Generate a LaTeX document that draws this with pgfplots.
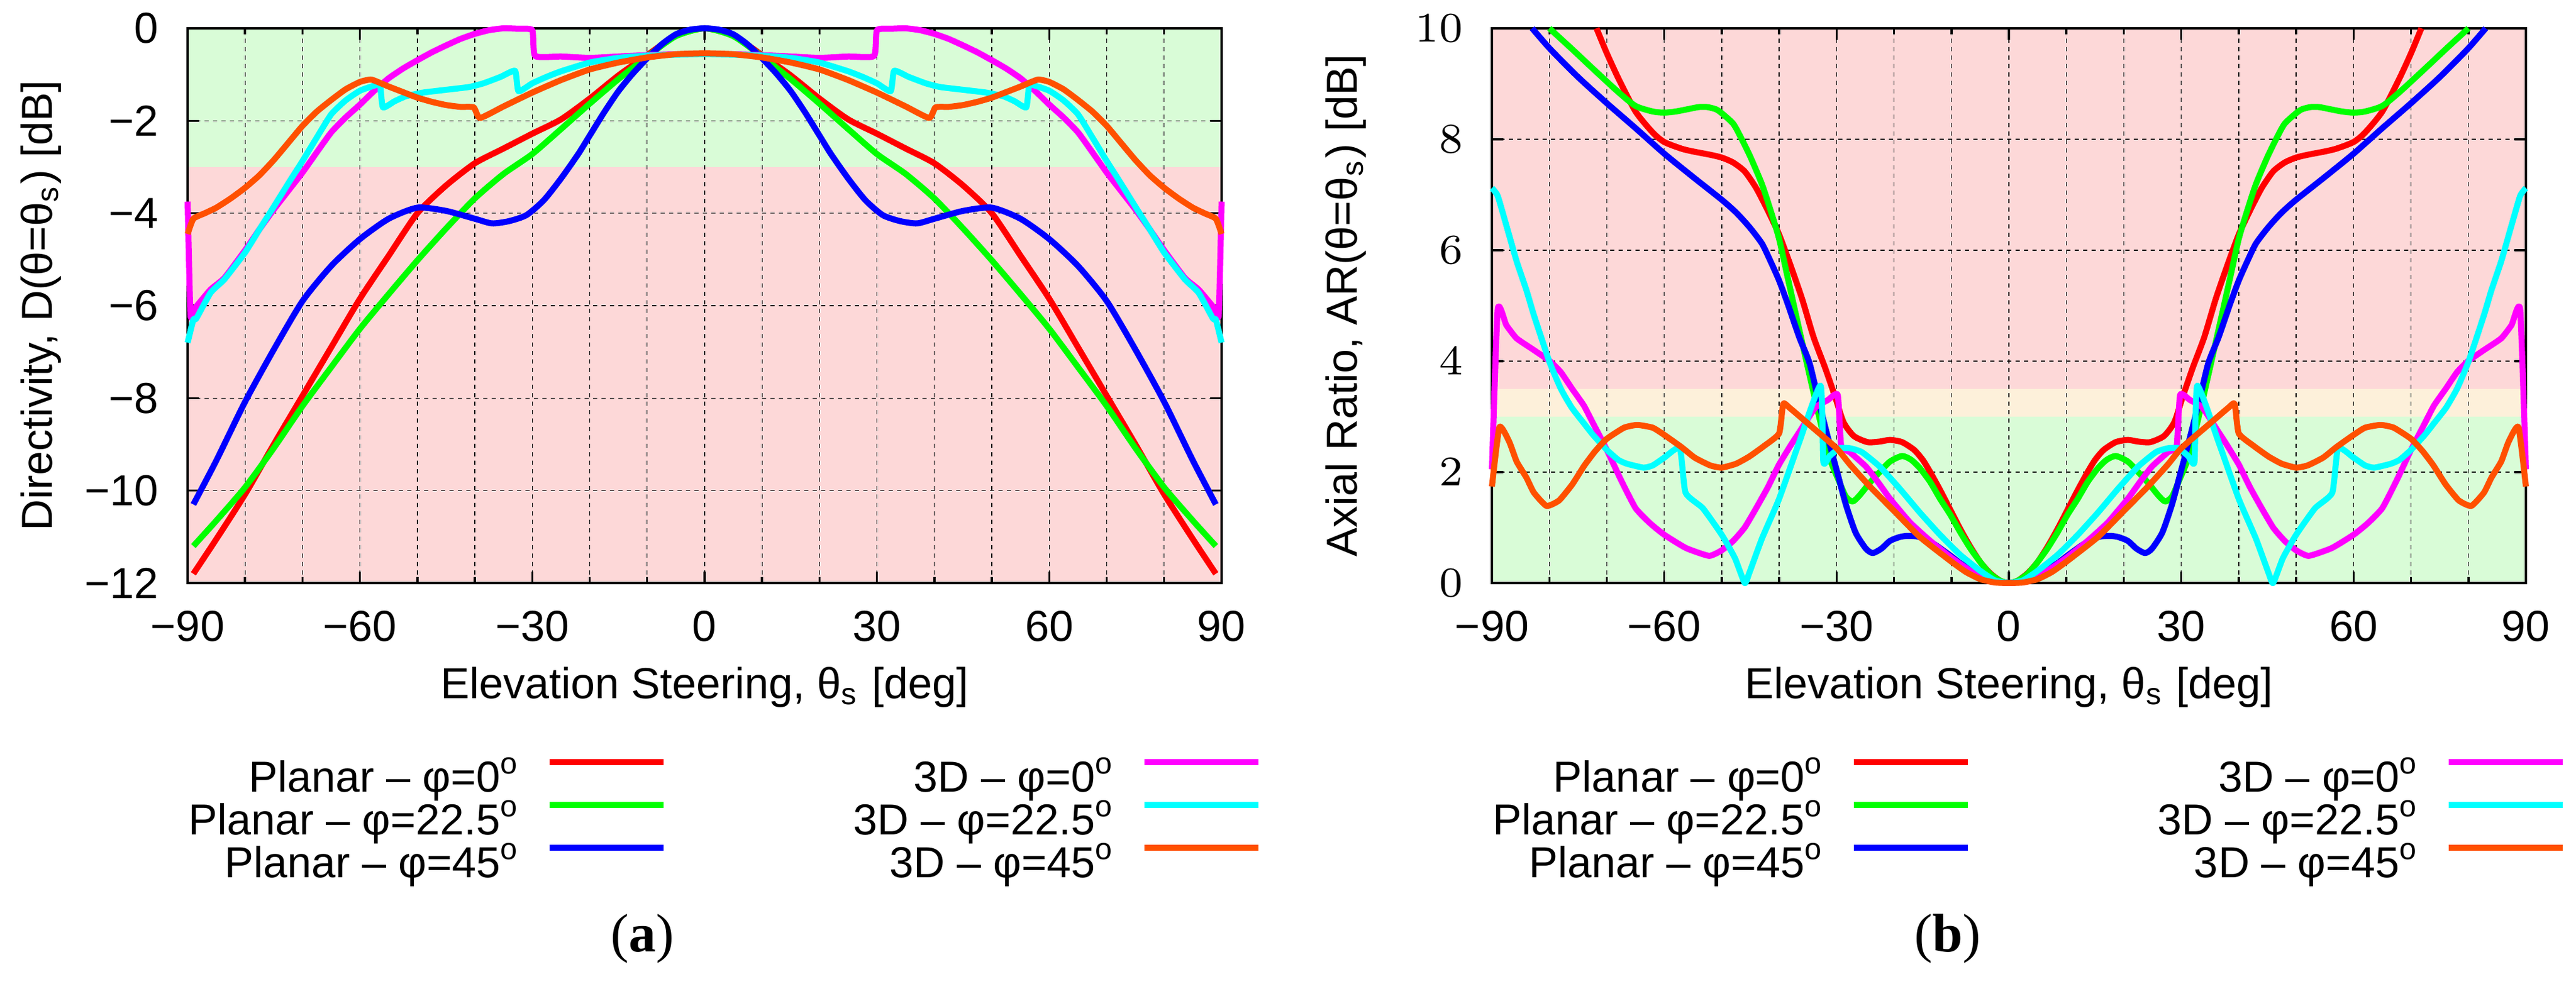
\documentclass[border=0pt]{standalone}
\usepackage{fontspec}
\setmainfont{Liberation Sans}
\newfontfamily\capfont{Liberation Serif}
\usepackage{pgfplots}
\pgfplotsset{compat=1.18}

\definecolor{cRed}{RGB}{255,0,0}
\definecolor{cGreen}{RGB}{0,255,0}
\definecolor{cBlue}{RGB}{0,0,255}
\definecolor{cMag}{RGB}{255,0,255}
\definecolor{cCyan}{RGB}{0,255,255}
\definecolor{cOrange}{RGB}{255,80,0}
\definecolor{bgGreen}{RGB}{217,252,215}
\definecolor{bgRed}{RGB}{253,216,216}
\definecolor{bgYellow}{RGB}{253,240,218}

\pgfplotsset{
  myaxis/.style={
    set layers,
    scale only axis, width=171.4pt, height=92pt, anchor=south west,
    clip=false,
    xmin=-90, xmax=90,
    xtick={-90,-60,-30,0,30,60,90},
    xticklabels={−90,−60,−30,0,30,60,90},
    minor x tick num=2,
    grid=both,
    major grid style={black, line width=0.13pt, dash pattern=on 0.7pt off 0.7pt},
    minor grid style={black, line width=0.13pt, dash pattern=on 0.7pt off 0.7pt},
    tick align=inside,
    major tick length=1.9pt, minor tick length=1pt,
    every tick/.style={black, line width=0.35pt},
    axis line style={black, line width=0.35pt},
    tick label style={font=\fontsize{7.2}{8.6}\selectfont},
    label style={font=\fontsize{7.2}{8.6}\selectfont},
    xticklabel style={inner sep=0pt, anchor=north, yshift=-4.4pt},
    yticklabel style={inner sep=0pt, anchor=east, xshift=-4.6pt},
    xlabel={Elevation Steering, θ\textsubscript{s} [deg]},
    xlabel style={at={(axis description cs:0.5,-0.2087)}, anchor=base},
    ylabel style={at={(axis description cs:-0.1307,0.5)}, anchor=base},
    every axis plot/.append style={line width=1pt, line join=round},
    legend columns=2,
    legend plot pos=right,
    legend cell align=right,
    legend image code/.code={\draw[##1] (0pt,2.9pt) -- (18.9pt,2.9pt);},
    legend style={at={(axis description cs:1.0385,-0.3163)}, anchor=north east,
      draw=none, fill=none, inner sep=0pt, outer sep=0pt, row sep=0pt,
      font=\fontsize{7.2}{8.6}\selectfont,
      nodes={inner sep=0pt, text height=5.6pt, text depth=1.5pt},
      /tikz/every odd column/.append style={column sep=4.3pt},
      /tikz/every even column/.append style={column sep=31pt}},
  }
}

\newcommand{\mylegend}{%
  \addlegendimage{cRed, line width=1pt}\addlegendentry{Planar \textendash{} φ=0\textsuperscript{o}}
  \addlegendimage{cMag, line width=1pt}\addlegendentry{3D \textendash{} φ=0\textsuperscript{o}}
  \addlegendimage{cGreen, line width=1pt}\addlegendentry{Planar \textendash{} φ=22.5\textsuperscript{o}}
  \addlegendimage{cCyan, line width=1pt}\addlegendentry{3D \textendash{} φ=22.5\textsuperscript{o}}
  \addlegendimage{cBlue, line width=1pt}\addlegendentry{Planar \textendash{} φ=45\textsuperscript{o}}
  \addlegendimage{cOrange, line width=1pt}\addlegendentry{3D \textendash{} φ=45\textsuperscript{o}}
}

\begin{document}
\begin{tikzpicture}

% ---------------- (a) Directivity ----------------
\begin{axis}[myaxis, at={(31.1pt,64.8pt)},
  ymin=-12, ymax=0,
  ytick={-12,-10,-8,-6,-4,-2,0},
  yticklabels={−12,−10,−8,−6,−4,−2,0},
  ylabel={Directivity, D(θ=θ\textsubscript{s}) [dB]}]

\addplot[draw=none, fill=bgGreen, on layer=axis background, forget plot]
  coordinates {(-90,-3) (90,-3) (90,0) (-90,0)} -- cycle;
\addplot[draw=none, fill=bgRed, on layer=axis background, forget plot]
  coordinates {(-90,-12) (90,-12) (90,-3) (-90,-3)} -- cycle;

% Planar phi=0
\addplot[cRed, smooth, tension=0.4, forget plot] coordinates {
(-89,-11.80) (-85,-11.05) (-80,-10.08) (-75,-9.00) (-70,-7.95) (-65,-6.90) (-60,-5.85) (-55,-4.92) (-50,-4.00) (-45,-3.40) (-40,-2.92) (-35,-2.60) (-30,-2.28) (-25,-1.97) (-20,-1.52) (-15,-1.02) (-10,-0.58) (-5,-0.16) (0,0) (5,-0.16) (10,-0.58) (15,-1.02) (20,-1.52) (25,-1.97) (30,-2.28) (35,-2.60) (40,-2.92) (45,-3.40) (50,-4.00) (55,-4.92) (60,-5.85) (65,-6.90) (70,-7.95) (75,-9.00) (80,-10.08) (85,-11.05) (89,-11.80)};
% Planar phi=22.5
\addplot[cGreen, smooth, tension=0.4, forget plot] coordinates {
(-89,-11.20) (-85,-10.65) (-80,-9.93) (-75,-9.08) (-70,-8.17) (-65,-7.33) (-60,-6.50) (-55,-5.75) (-50,-5.02) (-45,-4.33) (-40,-3.68) (-35,-3.15) (-30,-2.72) (-25,-2.18) (-20,-1.63) (-15,-1.10) (-10,-0.61) (-5,-0.17) (0,0) (5,-0.17) (10,-0.61) (15,-1.10) (20,-1.63) (25,-2.18) (30,-2.72) (35,-3.15) (40,-3.68) (45,-4.33) (50,-5.02) (55,-5.75) (60,-6.50) (65,-7.33) (70,-8.17) (75,-9.08) (80,-9.93) (85,-10.65) (89,-11.20)};
% Planar phi=45
\addplot[cBlue, smooth, tension=0.4, forget plot] coordinates {
(-89,-10.30) (-85,-9.35) (-80,-8.08) (-75,-6.95) (-70,-5.90) (-65,-5.14) (-60,-4.56) (-55,-4.12) (-50,-3.88) (-45,-3.95) (-40,-4.12) (-37,-4.22) (-34,-4.17) (-31,-4.04) (-28,-3.72) (-25,-3.25) (-22,-2.72) (-20,-2.32) (-17.5,-1.82) (-15,-1.36) (-12.5,-0.98) (-10,-0.65) (-7.5,-0.35) (-5,-0.13) (-2.5,-0.03) (0,0) (2.5,-0.03) (5,-0.13) (7.5,-0.35) (10,-0.65) (12.5,-0.98) (15,-1.36) (17.5,-1.82) (20,-2.32) (22,-2.72) (25,-3.25) (28,-3.72) (31,-4.04) (34,-4.17) (37,-4.22) (40,-4.12) (45,-3.95) (50,-3.88) (55,-4.12) (60,-4.56) (65,-5.14) (70,-5.90) (75,-6.95) (80,-8.08) (85,-9.35) (89,-10.30)};
% 3D phi=0
\addplot[cMag, smooth, tension=0.3, forget plot] coordinates {
(-90,-3.75) (-89.5,-6.20) (-88.7,-6.05) (-86,-5.65) (-83.6,-5.40) (-80,-4.80) (-77.5,-4.35) (-75,-3.92) (-72.5,-3.52) (-70,-3.12) (-67.5,-2.68) (-65,-2.25) (-62.5,-1.93) (-60,-1.65) (-57.5,-1.35) (-55,-1.08) (-52.5,-0.87) (-50,-0.69) (-47.5,-0.52) (-45,-0.37) (-42.5,-0.23) (-40,-0.12) (-37.5,-0.04) (-35,0) (-32.5,-0.01) (-30,-0.04) (-29.5,-0.60) (-25,-0.61) (-20,-0.64) (-15,-0.61) (-10,-0.58) (-5,-0.56) (0,-0.56) (5,-0.56) (10,-0.58) (15,-0.61) (20,-0.64) (25,-0.61) (29.5,-0.60) (30,-0.04) (32.5,-0.01) (35,0) (37.5,-0.04) (40,-0.12) (42.5,-0.23) (45,-0.37) (47.5,-0.52) (50,-0.69) (52.5,-0.87) (55,-1.08) (57.5,-1.35) (60,-1.65) (62.5,-1.93) (65,-2.25) (67.5,-2.68) (70,-3.12) (72.5,-3.52) (75,-3.92) (77.5,-4.35) (80,-4.80) (83.6,-5.40) (86,-5.65) (88.7,-6.05) (89.5,-6.20) (90,-3.75)};
% 3D phi=22.5
\addplot[cCyan, smooth, tension=0.3, forget plot] coordinates {
(-90,-6.80) (-89,-6.30) (-88.5,-6.28) (-86,-5.72) (-83.6,-5.43) (-80,-4.85) (-77.5,-4.35) (-75,-3.86) (-72.5,-3.36) (-70,-2.87) (-67.5,-2.36) (-65,-1.86) (-62.5,-1.56) (-60,-1.35) (-57.5,-1.24) (-56.5,-1.23) (-56,-1.71) (-54,-1.58) (-52,-1.47) (-49,-1.39) (-45,-1.33) (-41,-1.27) (-38.5,-1.19) (-35.5,-1.05) (-33,-0.92) (-32.4,-1.36) (-30,-1.19) (-27.5,-1.05) (-25,-0.93) (-20,-0.74) (-15,-0.64) (-10,-0.59) (-5,-0.57) (0,-0.56) (5,-0.57) (10,-0.59) (15,-0.64) (20,-0.74) (25,-0.93) (27.5,-1.05) (30,-1.19) (32.4,-1.36) (33,-0.92) (35.5,-1.05) (38.5,-1.19) (41,-1.27) (45,-1.33) (49,-1.39) (52,-1.47) (54,-1.58) (56,-1.71) (56.5,-1.23) (57.5,-1.24) (60,-1.35) (62.5,-1.56) (65,-1.86) (67.5,-2.36) (70,-2.87) (72.5,-3.36) (75,-3.86) (77.5,-4.35) (80,-4.85) (83.6,-5.43) (86,-5.72) (88.5,-6.28) (89,-6.30) (90,-6.80)};
% 3D phi=45
\addplot[cOrange, smooth, tension=0.3, forget plot] coordinates {
(-90,-4.45) (-89,-4.12) (-87,-4.00) (-85,-3.88) (-82.5,-3.68) (-80,-3.45) (-77.5,-3.18) (-75,-2.85) (-72.5,-2.48) (-70,-2.11) (-67.5,-1.80) (-65,-1.55) (-62.5,-1.32) (-60,-1.16) (-58,-1.11) (-55,-1.26) (-52.5,-1.38) (-50,-1.50) (-47.5,-1.59) (-45,-1.66) (-42.5,-1.70) (-40.2,-1.71) (-39.1,-1.94) (-35,-1.69) (-30,-1.39) (-25,-1.12) (-20,-0.89) (-15,-0.74) (-10,-0.63) (-5,-0.56) (0,-0.54) (5,-0.56) (10,-0.63) (15,-0.74) (20,-0.89) (25,-1.12) (30,-1.39) (35,-1.69) (39.1,-1.94) (40.2,-1.71) (42.5,-1.70) (45,-1.66) (47.5,-1.59) (50,-1.50) (52.5,-1.38) (55,-1.26) (58,-1.11) (60,-1.16) (62.5,-1.32) (65,-1.55) (67.5,-1.80) (70,-2.11) (72.5,-2.48) (75,-2.85) (77.5,-3.18) (80,-3.45) (82.5,-3.68) (85,-3.88) (87,-4.00) (89,-4.12) (90,-4.45)};
\mylegend
\end{axis}

% ---------------- (b) Axial ratio ----------------
\begin{axis}[myaxis, at={(247.3pt,64.8pt)},
  ymin=0, ymax=10,
  ytick={0,2,4,6,8,10},
  ylabel={Axial Ratio, AR(θ=θ\textsubscript{s}) [dB]}]

\addplot[draw=none, fill=bgGreen, on layer=axis background, forget plot]
  coordinates {(-90,0) (90,0) (90,3) (-90,3)} -- cycle;
\addplot[draw=none, fill=bgYellow, on layer=axis background, forget plot]
  coordinates {(-90,3) (90,3) (90,3.5) (-90,3.5)} -- cycle;
\addplot[draw=none, fill=bgRed, on layer=axis background, forget plot]
  coordinates {(-90,3.5) (90,3.5) (90,10) (-90,10)} -- cycle;

% Planar phi=0
\addplot[cRed, smooth, tension=0.4, forget plot] coordinates {
(-71.8,10) (-70,9.55) (-68,9.10) (-65,8.50) (-62,8.12) (-60,7.95) (-57,7.83) (-55,7.78) (-52,7.72) (-50,7.67) (-48,7.58) (-46,7.42) (-44,7.12) (-42,6.72) (-40,6.28) (-38,5.72) (-36,5.12) (-34,4.43) (-32,3.88) (-30.2,3.34) (-28.8,2.90) (-27,2.65) (-24.6,2.54) (-22.5,2.55) (-20.7,2.58) (-18.6,2.54) (-16.5,2.40) (-15,2.22) (-13.7,2.00) (-12,1.68) (-10.2,1.32) (-8.5,0.98) (-6.7,0.65) (-5,0.38) (-3.3,0.18) (-1.5,0.04) (0,0) (1.5,0.04) (3.3,0.18) (5,0.38) (6.7,0.65) (8.5,0.98) (10.2,1.32) (12,1.68) (13.7,2.00) (15,2.22) (16.5,2.40) (18.6,2.54) (20.7,2.58) (22.5,2.55) (24.6,2.54) (27,2.65) (28.8,2.90) (30.2,3.34) (32,3.88) (34,4.43) (36,5.12) (38,5.72) (40,6.28) (42,6.72) (44,7.12) (46,7.42) (48,7.58) (50,7.67) (52,7.72) (55,7.78) (57,7.83) (60,7.95) (62,8.12) (65,8.50) (68,9.10) (70,9.55) (71.8,10)};
% Planar phi=22.5
\addplot[cGreen, smooth, tension=0.4, forget plot] coordinates {
(-80,10) (-76,9.62) (-72.4,9.27) (-68,8.85) (-65,8.60) (-62,8.50) (-60,8.48) (-58,8.50) (-56,8.54) (-54,8.58) (-52.5,8.58) (-51,8.54) (-50,8.47) (-48,8.28) (-46.6,8.02) (-45,7.68) (-43,7.19) (-41.5,6.72) (-40,6.20) (-38.5,5.50) (-37,4.80) (-35,3.88) (-33,2.98) (-31.2,2.25) (-29.8,1.89) (-28.4,1.56) (-27.2,1.47) (-26,1.58) (-24.2,1.81) (-22.5,2.00) (-20.7,2.19) (-18.6,2.29) (-17,2.22) (-15.5,2.07) (-13.7,1.82) (-12,1.52) (-10.2,1.23) (-8.5,0.92) (-6.7,0.62) (-5,0.38) (-3.3,0.17) (-1.5,0.04) (0,0) (1.5,0.04) (3.3,0.17) (5,0.38) (6.7,0.62) (8.5,0.92) (10.2,1.23) (12,1.52) (13.7,1.82) (15.5,2.07) (17,2.22) (18.6,2.29) (20.7,2.19) (22.5,2.00) (24.2,1.81) (26,1.58) (27.2,1.47) (28.4,1.56) (29.8,1.89) (31.2,2.25) (33,2.98) (35,3.88) (37,4.80) (38.5,5.50) (40,6.20) (41.5,6.72) (43,7.19) (45,7.68) (46.6,8.02) (48,8.28) (50,8.47) (51,8.54) (52.5,8.58) (54,8.58) (56,8.54) (58,8.50) (60,8.48) (62,8.50) (65,8.60) (68,8.85) (72.4,9.27) (76,9.62) (80,10)};
% Planar phi=45
\addplot[cBlue, smooth, tension=0.4, forget plot] coordinates {
(-83,10) (-79.8,9.62) (-75,9.12) (-70,8.65) (-65,8.20) (-60,7.74) (-55,7.32) (-50,6.91) (-47.5,6.68) (-45.2,6.42) (-43,6.12) (-41.5,5.80) (-40,5.45) (-38.5,5.03) (-36.5,4.43) (-34.7,3.96) (-33,3.23) (-31.2,2.50) (-29.8,1.96) (-28.4,1.42) (-26.7,0.91) (-24.9,0.62) (-23.7,0.54) (-22.2,0.62) (-20.7,0.76) (-19,0.83) (-17.6,0.85) (-16,0.84) (-14.8,0.80) (-13,0.70) (-12,0.63) (-10,0.48) (-8.5,0.36) (-6.7,0.25) (-5,0.15) (-2.5,0.04) (0,0) (2.5,0.04) (5,0.15) (6.7,0.25) (8.5,0.36) (10,0.48) (12,0.63) (13,0.70) (14.8,0.80) (16,0.84) (17.6,0.85) (19,0.83) (20.7,0.76) (22.2,0.62) (23.7,0.54) (24.9,0.62) (26.7,0.91) (28.4,1.42) (29.8,1.96) (31.2,2.50) (33,3.23) (34.7,3.96) (36.5,4.43) (38.5,5.03) (40,5.45) (41.5,5.80) (43,6.12) (45.2,6.42) (47.5,6.68) (50,6.91) (55,7.32) (60,7.74) (65,8.20) (70,8.65) (75,9.12) (79.8,9.62) (83,10)};
% 3D phi=0
\addplot[cMag, smooth, tension=0.3, forget plot] coordinates {
(-90,2.05) (-89,4.93) (-87.5,4.65) (-85.7,4.41) (-82.7,4.20) (-79.8,3.99) (-78,3.80) (-76.1,3.51) (-74,3.20) (-72.4,2.88) (-70,2.40) (-67.5,1.85) (-65,1.35) (-62.5,1.08) (-60,0.87) (-56.2,0.63) (-52.2,0.49) (-50,0.59) (-48,0.76) (-46,1.00) (-44,1.35) (-42,1.72) (-40,2.14) (-38,2.48) (-36.5,2.72) (-33.7,3.16) (-31.5,3.30) (-29.8,3.39) (-29.2,2.47) (-27.7,2.36) (-24.9,2.10) (-22.8,1.82) (-20.7,1.52) (-17.2,1.09) (-13.7,0.76) (-10.2,0.47) (-6.7,0.22) (-3.3,0.04) (0,0) (3.3,0.04) (6.7,0.22) (10.2,0.47) (13.7,0.76) (17.2,1.09) (20.7,1.52) (22.8,1.82) (24.9,2.10) (27.7,2.36) (29.2,2.47) (29.8,3.39) (31.5,3.30) (33.7,3.16) (36.5,2.72) (38,2.48) (40,2.14) (42,1.72) (44,1.35) (46,1.00) (48,0.76) (50,0.59) (52.2,0.49) (56.2,0.63) (60,0.87) (62.5,1.08) (65,1.35) (67.5,1.85) (70,2.40) (72.4,2.88) (74,3.20) (76.1,3.51) (78,3.80) (79.8,3.99) (82.7,4.20) (85.7,4.41) (87.5,4.65) (89,4.93) (90,2.05)};
% 3D phi=22.5
\addplot[cCyan, smooth, tension=0.3, forget plot] coordinates {
(-90,7.12) (-89,6.98) (-87.5,6.45) (-85.7,5.80) (-84,5.28) (-82.7,4.83) (-80,3.99) (-78,3.50) (-76.1,3.16) (-74,2.88) (-72.4,2.67) (-70,2.40) (-68,2.22) (-66.5,2.15) (-63.6,2.08) (-62,2.12) (-60,2.26) (-57.3,2.43) (-56.3,1.63) (-53.3,1.35) (-50,0.87) (-47.7,0.45) (-46,0) (-45.2,0.18) (-43,0.80) (-40,1.52) (-36.5,2.54) (-32.8,3.56) (-32.3,2.18) (-31.2,2.29) (-29.5,2.43) (-27.7,2.43) (-25.6,2.36) (-22.5,2.10) (-19,1.70) (-15.5,1.27) (-12,0.87) (-8.5,0.51) (-5,0.22) (-2.5,0.05) (0,0) (2.5,0.05) (5,0.22) (8.5,0.51) (12,0.87) (15.5,1.27) (19,1.70) (22.5,2.10) (25.6,2.36) (27.7,2.43) (29.5,2.43) (31.2,2.29) (32.3,2.18) (32.8,3.56) (36.5,2.54) (40,1.52) (43,0.80) (45.2,0.18) (46,0) (47.7,0.45) (50,0.87) (53.3,1.35) (56.3,1.63) (57.3,2.43) (60,2.26) (62,2.12) (63.6,2.08) (66.5,2.15) (68,2.22) (70,2.40) (72.4,2.67) (74,2.88) (76.1,3.16) (78,3.50) (80,3.99) (82.7,4.83) (84,5.28) (85.7,5.80) (87.5,6.45) (89,6.98) (90,7.12)};
% 3D phi=45
\addplot[cOrange, smooth, tension=0.3, forget plot] coordinates {
(-90,1.74) (-88.7,2.81) (-87,2.55) (-85.7,2.19) (-84,1.90) (-82.7,1.63) (-80.5,1.39) (-78.3,1.49) (-76,1.78) (-73.9,2.12) (-72,2.38) (-70,2.60) (-67,2.80) (-64.7,2.85) (-62,2.80) (-60,2.67) (-57,2.45) (-54.7,2.26) (-52,2.12) (-50,2.08) (-47.5,2.15) (-45.2,2.28) (-42.5,2.48) (-40,2.70) (-39.3,3.23) (-38.2,3.16) (-34.7,2.85) (-30,2.43) (-27.7,2.14) (-24.2,1.74) (-20,1.30) (-15.5,0.83) (-10.2,0.40) (-7.5,0.20) (-5,0.07) (-2.5,0.01) (0,0) (2.5,0.01) (5,0.07) (7.5,0.20) (10.2,0.40) (15.5,0.83) (20,1.30) (24.2,1.74) (27.7,2.14) (30,2.43) (34.7,2.85) (38.2,3.16) (39.3,3.23) (40,2.70) (42.5,2.48) (45.2,2.28) (47.5,2.15) (50,2.08) (52,2.12) (54.7,2.26) (57,2.45) (60,2.67) (62,2.80) (64.7,2.85) (67,2.80) (70,2.60) (72,2.38) (73.9,2.12) (76,1.78) (78.3,1.49) (80.5,1.39) (82.7,1.63) (84,1.90) (85.7,2.19) (87,2.55) (88.7,2.81) (90,1.74)};
\mylegend
\end{axis}

\node[font=\capfont\fontsize{9}{10.8}\selectfont] at (106.5pt,5.8pt) {(\textbf{a})};
\node[font=\capfont\fontsize{9}{10.8}\selectfont] at (322.8pt,5.8pt) {(\textbf{b})};
\path (0,0) rectangle (427pt,161.5pt);
\end{tikzpicture}
\end{document}
